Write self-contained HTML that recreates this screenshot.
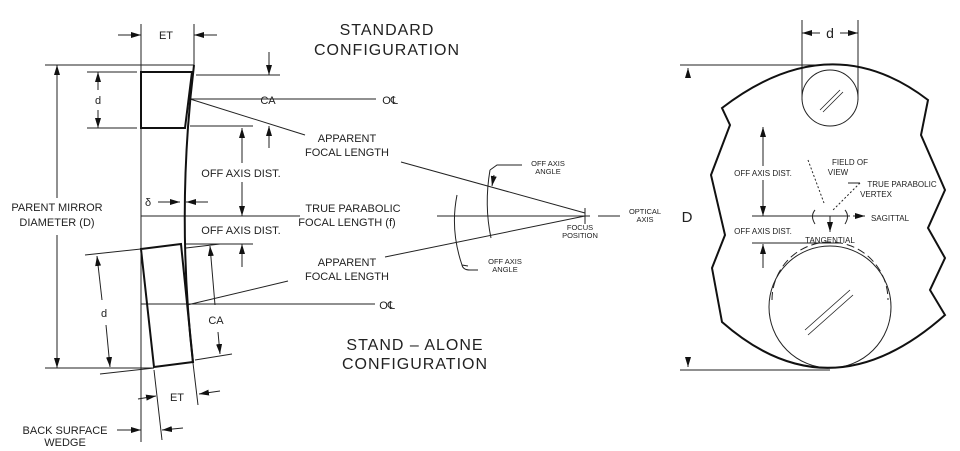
<!DOCTYPE html><html><head><meta charset="utf-8"><style>body{margin:0;background:#fff}svg{display:block}text{font-family:"Liberation Sans",sans-serif;fill:#222}</style></head><body>
<svg width="960" height="451" viewBox="0 0 960 451" xmlns="http://www.w3.org/2000/svg">
<defs><marker id="a" viewBox="0 0 10 6" refX="10" refY="3" markerWidth="10" markerHeight="6" orient="auto-start-reverse" markerUnits="userSpaceOnUse"><path d="M0,0L10,3L0,6z" fill="#111"/></marker></defs>
<g stroke="#222" stroke-width="1" fill="none">
<line x1="141" y1="24" x2="141" y2="442"/>
<line x1="194" y1="24" x2="194" y2="65"/>
<line x1="118" y1="35" x2="141" y2="35" marker-end="url(#a)"/>
<line x1="217" y1="35" x2="194" y2="35" marker-end="url(#a)"/>
<line x1="45" y1="65" x2="194" y2="65"/>
<line x1="45" y1="368" x2="154" y2="368"/>
<line x1="57" y1="65" x2="57" y2="198" marker-start="url(#a)"/>
<line x1="57" y1="235" x2="57" y2="368" marker-end="url(#a)"/>
<line x1="87" y1="72" x2="137" y2="72"/><line x1="87" y1="128" x2="137" y2="128"/>
<line x1="98" y1="72" x2="98" y2="90" marker-start="url(#a)"/><line x1="98" y1="110" x2="98" y2="128" marker-end="url(#a)"/>
<line x1="196" y1="75" x2="280" y2="75"/><line x1="190" y1="126" x2="253" y2="126"/>
<line x1="269" y1="52" x2="269" y2="75" marker-end="url(#a)"/><line x1="269" y1="148" x2="269" y2="126" marker-end="url(#a)"/>
<line x1="190" y1="99" x2="376" y2="99"/>
<line x1="190" y1="99" x2="305" y2="135"/><line x1="401" y1="162" x2="585" y2="213"/>
<line x1="242" y1="128" x2="242" y2="163" marker-start="url(#a)"/><line x1="242" y1="182" x2="242" y2="216" marker-end="url(#a)"/>
<line x1="141" y1="216" x2="300" y2="216"/><line x1="437" y1="216" x2="590" y2="216"/>
<line x1="598" y1="216" x2="620" y2="216"/>
<line x1="585" y1="208" x2="585" y2="224"/>
<line x1="185" y1="244" x2="253" y2="244"/><line x1="242" y1="267" x2="242" y2="244" marker-end="url(#a)"/>
<line x1="158" y1="202" x2="180" y2="202" marker-end="url(#a)"/><line x1="208" y1="202" x2="186" y2="202" marker-end="url(#a)"/>
<line x1="185" y1="190" x2="185" y2="212"/>
<line x1="141" y1="304" x2="375" y2="304"/>
<line x1="187" y1="305" x2="288" y2="281"/><line x1="385" y1="257" x2="585" y2="216"/>
<line x1="85" y1="255" x2="141" y2="249"/><line x1="100" y1="374" x2="154" y2="368"/>
<line x1="97" y1="256" x2="102" y2="300" marker-start="url(#a)"/><line x1="106" y1="325" x2="110" y2="367" marker-end="url(#a)"/>
<line x1="186" y1="248" x2="220" y2="244"/><line x1="195" y1="360" x2="232" y2="354"/>
<line x1="210" y1="246" x2="215" y2="305" marker-start="url(#a)"/><line x1="218" y1="332" x2="220" y2="354" marker-end="url(#a)"/>
<line x1="154" y1="370" x2="162" y2="440"/><line x1="193" y1="363" x2="198" y2="405"/>
<line x1="138" y1="399" x2="156" y2="396" marker-end="url(#a)"/><line x1="220" y1="391" x2="199" y2="394" marker-end="url(#a)"/>
<line x1="183" y1="428" x2="162" y2="430" marker-end="url(#a)"/>
<line x1="117" y1="430" x2="141" y2="430" marker-end="url(#a)"/>
<path d="M490,170 Q484,205 491,238" /><line x1="494" y1="175" x2="492" y2="186" marker-end="url(#a)"/>
<path d="M457,195 Q450,230 462,265 L468,266"/><path d="M490,170 L497,165 L522,165"/>
<path d="M462,265 Q463,270 470,270 L478,270"/>
</g>
<g stroke="#111" stroke-width="2" fill="none">
<path d="M141,72 L192,72 L185,128 L141,128 Z"/>
<path d="M194,65 Q176,213 193,363"/>
<path d="M141,249 L181,244 L193,362 L154,367 Z"/>
</g>
<g font-size="11" text-anchor="middle">
<text x="166" y="39">ET</text><text x="98" y="104">d</text><text x="268" y="104">CA</text>
<text x="57" y="211">PARENT MIRROR</text><text x="57" y="226">DIAMETER (D)</text>
<text x="241" y="177">OFF AXIS DIST.</text><text x="241" y="234">OFF AXIS DIST.</text>
<text x="148" y="206">δ</text>
<text x="353" y="212">TRUE PARABOLIC</text><text x="347" y="226">FOCAL LENGTH (f)</text>
<text x="347" y="142">APPARENT</text><text x="347" y="156">FOCAL LENGTH</text>
<text x="347" y="266">APPARENT</text><text x="347" y="280">FOCAL LENGTH</text>
<text x="104" y="317">d</text><text x="216" y="324">CA</text><text x="177" y="401">ET</text>
<text x="65" y="434">BACK SURFACE</text><text x="65" y="446">WEDGE</text>
<text x="390" y="104">O℄</text><text x="387" y="309">O℄</text>
<text x="387" y="35" font-size="16" letter-spacing="1">STANDARD</text><text x="387" y="55" font-size="16" letter-spacing="1">CONFIGURATION</text>
<text x="415" y="350" font-size="16" letter-spacing="1">STAND – ALONE</text><text x="415" y="369" font-size="16" letter-spacing="1">CONFIGURATION</text>
<g font-size="7.5"><text x="548" y="166">OFF AXIS</text><text x="548" y="174">ANGLE</text>
<text x="505" y="264">OFF AXIS</text><text x="505" y="272">ANGLE</text>
<text x="580" y="230">FOCUS</text><text x="580" y="238">POSITION</text>
<text x="645" y="214">OPTICAL</text><text x="645" y="222">AXIS</text></g>
</g>
<g stroke="#222" stroke-width="1" fill="none">
<line x1="802" y1="20" x2="802" y2="100"/><line x1="858" y1="20" x2="858" y2="100"/>
<line x1="820" y1="33" x2="802" y2="33" marker-end="url(#a)"/><line x1="840" y1="33" x2="858" y2="33" marker-end="url(#a)"/>
<line x1="680" y1="65" x2="830" y2="65"/><line x1="680" y1="370" x2="830" y2="370"/>
<line x1="688" y1="68" x2="688" y2="75" marker-start="url(#a)"/><line x1="688" y1="360" x2="688" y2="367" marker-end="url(#a)"/>
<line x1="763" y1="127" x2="763" y2="166" marker-start="url(#a)"/><line x1="763" y1="180" x2="763" y2="216" marker-end="url(#a)"/>
<line x1="763" y1="268" x2="763" y2="244" marker-end="url(#a)"/>
<line x1="752" y1="216" x2="850" y2="216"/><line x1="752" y1="243" x2="840" y2="243"/>
<line x1="830" y1="216" x2="830" y2="232" marker-end="url(#a)"/>
<line x1="853" y1="216" x2="865" y2="216" marker-end="url(#a)"/>
<line x1="808" y1="160" x2="824" y2="203" stroke-dasharray="2,2"/>
<line x1="860" y1="183" x2="832" y2="211" stroke-dasharray="2,2"/>
<line x1="848" y1="183" x2="860" y2="183"/>
<path d="M815,210 Q810,216 815,224 M845,210 Q850,216 845,224"/>
<circle cx="830" cy="98" r="28"/>
<circle cx="830" cy="307" r="61"/>
<path d="M772,300 A58,58 0 0 1 888,300" stroke-dasharray="8,4"/>
<g stroke-width="0.8"><line x1="820" y1="110" x2="840" y2="90"/><line x1="823" y1="112" x2="843" y2="92"/><line x1="805" y1="330" x2="850" y2="290"/><line x1="808" y1="335" x2="853" y2="295"/></g>
</g>
<path d="M722,108 Q830,25 928,100 L921,135 L945,190 L928,228 L945,258 L930,290 L945,315 Q830,417 722,322 L712,268 L725,235 L711,175 L730,125 Z" stroke="#111" stroke-width="2" fill="none"/>
<g font-size="9" text-anchor="middle" fill="#333">
<text x="830" y="38" font-size="14">d</text><text x="687" y="222" font-size="15" fill="#555">D</text>
<text x="763" y="176" font-size="8">OFF AXIS DIST.</text><text x="763" y="234" font-size="8">OFF AXIS DIST.</text>
<text x="850" y="165" font-size="8">FIELD OF</text><text x="838" y="175" font-size="8">VIEW</text>
<text x="902" y="187" font-size="8">TRUE PARABOLIC</text><text x="876" y="197" font-size="8">VERTEX</text>
<text x="890" y="221" font-size="8">SAGITTAL</text><text x="830" y="243" font-size="8">TANGENTIAL</text>
</g>
</svg></body></html>
